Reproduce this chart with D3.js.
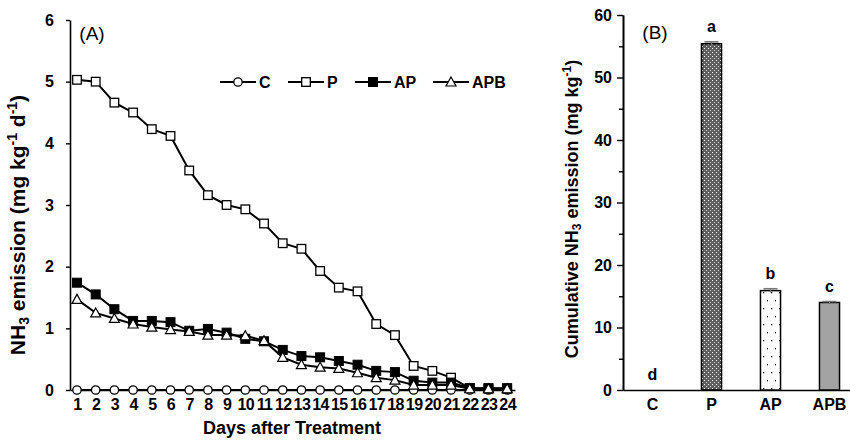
<!DOCTYPE html>
<html>
<head>
<meta charset="utf-8">
<script src="https://cdn.jsdelivr.net/npm/d3@7"></script>
<style>
    body { margin: 0; background: #fff; }
    text { font-family: "Liberation Sans", Arial, sans-serif; }
</style>
</head>
<body>
<svg id="chart" width="850" height="442"></svg>
<script>
// ---- panel A data: daily NH3 emission (mg kg-1 d-1)
var days = [1, 2, 3, 4, 5, 6, 7, 8, 9, 10, 11, 12, 13, 14, 15, 16, 17, 18, 19, 20, 21, 22, 23, 24];
var seriesC = [0, 0, 0, 0, 0, 0, 0, 0, 0, 0, 0, 0, 0, 0, 0, 0, 0, 0, 0, 0, 0, 0, 0, 0];
var seriesP = [5.03, 5.00, 4.66, 4.50, 4.23, 4.12, 3.56, 3.16, 3.00, 2.93, 2.70, 2.38,
               2.29, 1.93, 1.66, 1.60, 1.07, 0.89, 0.39, 0.31, 0.20, 0.03, 0.02, 0.02];
var seriesAP = [1.74, 1.55, 1.31, 1.12, 1.12, 1.10, 0.96, 0.99, 0.93, 0.83, 0.79, 0.65,
                0.55, 0.53, 0.47, 0.41, 0.31, 0.29, 0.15, 0.12, 0.12, 0.03, 0.03, 0.03];
var seriesAPB = [1.47, 1.25, 1.16, 1.07, 1.02, 0.98, 0.95, 0.89, 0.89, 0.88, 0.80, 0.53,
                 0.41, 0.37, 0.35, 0.28, 0.20, 0.16, 0.08, 0.08, 0.08, 0.02, 0.02, 0.02];
var seriesNames = ["C", "P", "AP", "APB"];
var yTicksA = [0, 1, 2, 3, 4, 5, 6];

// ---- panel B data: cumulative NH3 emission (mg kg-1)
var treatments = ["C", "P", "AP", "APB"];
var cumValues = [0, 55.4, 15.9, 14.0];
var cumErrors = [0, 0.3, 0.3, 0.15];
var sigLetters = ["d", "a", "b", "c"];
var yTicksB = [0, 10, 20, 30, 40, 50, 60];
var yMinorB = [5, 15, 25, 35, 45, 55];

var svg = d3.select("#chart");
var defs = svg.append("defs");

// fill patterns for the bars
var pat = defs.append("pattern").attr("id", "hatchP").attr("patternUnits", "userSpaceOnUse")
    .attr("width", 4).attr("height", 4);
pat.append("rect").attr("width", 4).attr("height", 4).attr("fill", "#5e5e5e");
pat.append("rect").attr("x", 0).attr("y", 0).attr("width", 1).attr("height", 1).attr("fill", "#fff");
pat.append("rect").attr("x", 2).attr("y", 2).attr("width", 1).attr("height", 1).attr("fill", "#d8d8d8");

var dots = defs.append("pattern").attr("id", "dotsAP").attr("patternUnits", "userSpaceOnUse")
    .attr("width", 8).attr("height", 16);
dots.append("rect").attr("width", 8).attr("height", 16).attr("fill", "#fff");
dots.append("rect").attr("x", 3).attr("y", 4).attr("width", 1.3).attr("height", 1.3).attr("fill", "#000");
dots.append("rect").attr("x", 7).attr("y", 12).attr("width", 1.3).attr("height", 1.3).attr("fill", "#000");

function styleAxis(ax) {
    ax.select(".domain").attr("stroke", "#000").attr("stroke-width", 1.6);
    ax.selectAll(".tick line").attr("stroke", "#000").attr("stroke-width", 1.4);
    ax.selectAll(".tick text").attr("fill", "#000").attr("font-size", 16).attr("font-weight", "bold")
        .style("font-family", "'Liberation Sans', Arial, sans-serif");
}

// ================= panel A =================
var xA = d3.scaleLinear().domain([0.626, 24.42]).range([70, 515]);
var yA = d3.scaleLinear().domain([0, 6]).range([390, 20]);

var gA = svg.append("g").attr("class", "panel-a");

var yAxisA = gA.append("g").attr("transform", "translate(70,0)")
    .call(d3.axisLeft(yA).tickValues(yTicksA).tickFormat(d3.format("d"))
        .tickSizeInner(4).tickSizeOuter(0).tickPadding(12));
var xAxisA = gA.append("g").attr("transform", "translate(0,390)")
    .call(d3.axisBottom(xA).tickValues(days).tickFormat(d3.format("d"))
        .tickSize(0).tickSizeOuter(0).tickPadding(9));
styleAxis(yAxisA);
styleAxis(xAxisA);
xAxisA.selectAll(".tick text").attr("letter-spacing", -0.6);

// axis titles
gA.append("text").attr("x", 292).attr("y", 434).attr("text-anchor", "middle")
    .attr("font-size", 18).attr("font-weight", "bold").text("Days after Treatment");

var tA = gA.append("text").attr("transform", "translate(25,225) rotate(-90)")
    .attr("text-anchor", "middle").attr("font-size", 21).attr("font-weight", "bold");
tA.append("tspan").text("NH");
tA.append("tspan").attr("font-size", 14).attr("baseline-shift", "-25%").text("3");
tA.append("tspan").text(" emission (mg kg");
tA.append("tspan").attr("font-size", 14).attr("baseline-shift", "super").text("-1");
tA.append("tspan").text(" d");
tA.append("tspan").attr("font-size", 14).attr("baseline-shift", "super").text("-1");
tA.append("tspan").text(")");

gA.append("text").attr("x", 92).attr("y", 40).attr("text-anchor", "middle")
    .attr("font-size", 19).text("(A)");

// markers
function drawMarker(sel, name, x, y) {
    if (name === "C") {
        sel.append("circle").attr("cx", x).attr("cy", y).attr("r", 4.2)
            .attr("fill", "#fff").attr("stroke", "#000").attr("stroke-width", 1.3);
    } else if (name === "P") {
        sel.append("rect").attr("x", x - 4.3).attr("y", y - 4.3).attr("width", 8.6).attr("height", 8.6)
            .attr("fill", "#fff").attr("stroke", "#000").attr("stroke-width", 1.3);
    } else if (name === "AP") {
        sel.append("rect").attr("x", x - 4.5).attr("y", y - 4.5).attr("width", 9).attr("height", 9)
            .attr("fill", "#000").attr("stroke", "#000").attr("stroke-width", 1);
    } else {
        sel.append("path").attr("d", "M" + x + "," + (y - 5) + "L" + (x + 5) + "," + (y + 4) + "L" + (x - 5) + "," + (y + 4) + "Z")
            .attr("fill", "#fff").attr("stroke", "#000").attr("stroke-width", 1.2);
    }
}

var allSeries = { C: seriesC, P: seriesP, AP: seriesAP, APB: seriesAPB };
var line = d3.line().x(function (d) { return xA(d[0]); }).y(function (d) { return yA(d[1]); });

seriesNames.forEach(function (name) {
    var pts = days.map(function (d, i) { return [d, allSeries[name][i]]; });
    var g = gA.append("g").attr("class", "series-" + name);
    g.append("path").attr("d", line(pts)).attr("fill", "none")
        .attr("stroke", "#000").attr("stroke-width", 2);
    pts.forEach(function (p) { drawMarker(g, name, xA(p[0]), yA(p[1])); });
});

// legend
var legendX = [220, 288, 355, 433];
seriesNames.forEach(function (name, i) {
    var lg = gA.append("g").attr("class", "legend");
    var lx = legendX[i], ly = 82, lw = 36;
    lg.append("line").attr("x1", lx).attr("x2", lx + lw).attr("y1", ly).attr("y2", ly)
        .attr("stroke", "#000").attr("stroke-width", 2);
    drawMarker(lg, name, lx + lw / 2, ly);
    lg.append("text").attr("x", lx + lw + 3).attr("y", ly + 6)
        .attr("font-size", 16).attr("font-weight", "bold").text(name);
});

// ================= panel B =================
var xB = d3.scaleBand().domain(treatments).range([623, 859]).paddingInner(0.66).paddingOuter(0.33);
var yB = d3.scaleLinear().domain([0, 60]).range([390, 15]);
var gB = svg.append("g").attr("class", "panel-b");

var minorB = gB.append("g").attr("transform", "translate(623,0)")
    .call(d3.axisLeft(yB).tickValues(yMinorB).tickSizeInner(4).tickSizeOuter(0).tickFormat(""));
var yAxisB = gB.append("g").attr("transform", "translate(623,0)")
    .call(d3.axisLeft(yB).tickValues(yTicksB).tickFormat(d3.format("d"))
        .tickSizeInner(6).tickSizeOuter(0).tickPadding(5));
var xAxisB = gB.append("g").attr("transform", "translate(0,390)")
    .call(d3.axisBottom(xB).tickSize(0).tickSizeOuter(0).tickPadding(9));
styleAxis(minorB);
styleAxis(yAxisB);
styleAxis(xAxisB);

var fills = ["#fff", "url(#hatchP)", "url(#dotsAP)", "#a3a3a3"];
treatments.forEach(function (t, i) {
    var x0 = xB(t), bw = xB.bandwidth(), v = cumValues[i];
    if (v > 0) {
        gB.append("rect").attr("x", x0).attr("y", yB(v)).attr("width", bw).attr("height", yB(0) - yB(v))
            .attr("fill", fills[i]).attr("stroke", "#000").attr("stroke-width", 1.5);
        // error bar
        var e = cumErrors[i];
        gB.append("line").attr("x1", x0 + bw / 2).attr("x2", x0 + bw / 2)
            .attr("y1", yB(v + e)).attr("y2", yB(v - e)).attr("stroke", "#777").attr("stroke-width", 1.2);
        gB.append("line").attr("x1", x0 + 3).attr("x2", x0 + bw - 3)
            .attr("y1", yB(v + e)).attr("y2", yB(v + e)).attr("stroke", "#777").attr("stroke-width", 1.6);
    }
    gB.append("text").attr("x", x0 + bw / 2).attr("y", yB(v + cumErrors[i]) - 10)
        .attr("text-anchor", "middle").attr("font-size", 16).attr("font-weight", "bold").text(sigLetters[i]);
});

var tB = gB.append("text").attr("transform", "translate(578,209) rotate(-90)")
    .attr("text-anchor", "middle").attr("font-size", 18).attr("font-weight", "bold");
tB.append("tspan").text("Cumulative NH");
tB.append("tspan").attr("font-size", 12).attr("baseline-shift", "-25%").text("3");
tB.append("tspan").text(" emission (mg kg");
tB.append("tspan").attr("font-size", 12).attr("baseline-shift", "super").text("-1");
tB.append("tspan").text(")");

gB.append("text").attr("x", 655).attr("y", 39).attr("text-anchor", "middle")
    .attr("font-size", 19).text("(B)");
</script>
</body>
</html>
